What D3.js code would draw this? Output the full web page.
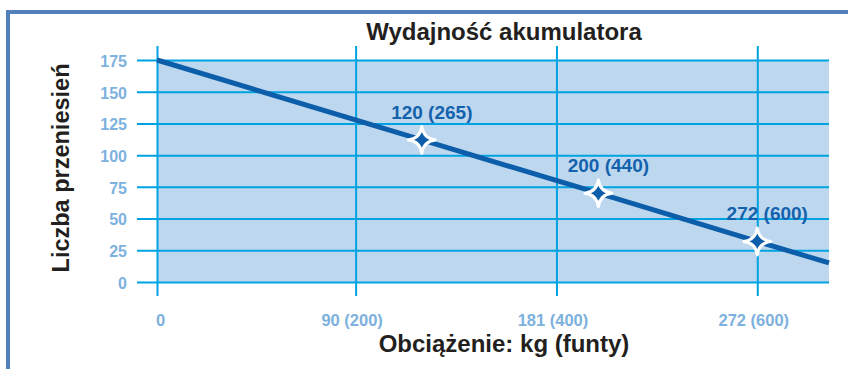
<!DOCTYPE html>
<html>
<head>
<meta charset="utf-8">
<script src="https://cdn.jsdelivr.net/npm/d3@7/dist/d3.min.js"></script>
<style>
  html, body { margin: 0; padding: 0; background: #fff; }
  svg { display: block; }
  svg text { font-family: "Liberation Sans", Arial, Helvetica, sans-serif; }
</style>
</head>
<body>
<svg id="chart" width="848" height="369"></svg>
<script>
// Battery performance: number of lifts against load
const chartTitle = "Wydajność akumulatora";
const xTitle = "Obciążenie: kg (funty)";
const yTitle = "Liczba przeniesień";

const xTickValues = [0, 90, 181, 272];              // kg
const xTickLabels = ["0", "90 (200)", "181 (400)", "272 (600)"];
const yTickValues = [0, 25, 50, 75, 100, 125, 150, 175];

// trend line (kg -> lifts)
const lineKg = [0, 120, 200, 272, 304.5];
const lineLifts = [175, 112, 70, 32, 15];

// highlighted loads
const pointKg = [120, 200, 272];
const pointLifts = [112, 70, 32];
const pointLabels = ["120 (265)", "200 (440)", "272 (600)"];

const svg = d3.select("#chart");

const plot = { left: 157, right: 829, top: 60, bottom: 282 };

const x = d3.scaleLinear().domain([0, 304.5]).range([plot.left, plot.right]);
const y = d3.scaleLinear().domain([0, 175]).range([plot.bottom, plot.top]);

const gridColor = "#00a3e2";
const tickColor = "#7db1de";
const darkBlue = "#0c5daa";
const fontFamily = "Liberation Sans, Arial, Helvetica, sans-serif";

// outer frame (top and left edges)
svg.append("path")
  .attr("d", "M8,369 V12 H848")
  .attr("fill", "none")
  .attr("stroke", "#5280ba")
  .attr("stroke-width", 4);

// plot background
svg.append("rect")
  .attr("x", plot.left).attr("y", plot.top)
  .attr("width", plot.right - plot.left)
  .attr("height", plot.bottom - plot.top)
  .attr("fill", "#bdd8ee");

// y axis: horizontal grid lines extending left as ticks
const yAxis = d3.axisLeft(y)
  .tickValues(yTickValues)
  .tickSize(-(plot.right - 137))
  .tickPadding(10)
  .tickFormat(d3.format("d"));
const yg = svg.append("g")
  .attr("transform", `translate(137,0)`)
  .call(yAxis)
  .attr("font-family", fontFamily);
yg.select(".domain").remove();
yg.selectAll(".tick line")
  .attr("x1", 0).attr("x2", plot.right - 137)
  .attr("stroke", gridColor).attr("stroke-width", 2);
yg.selectAll(".tick text")
  .attr("x", -10)
  .attr("dy", "0.4em")
  .attr("fill", tickColor)
  .attr("font-size", 16)
  .attr("font-weight", "bold");

// x axis: vertical grid lines with labels below
const xAxis = d3.axisBottom(x)
  .tickValues(xTickValues)
  .tickSize(0)
  .tickFormat((d, i) => xTickLabels[i]);
const xg = svg.append("g")
  .attr("transform", `translate(0,296)`)
  .call(xAxis)
  .attr("font-family", fontFamily);
xg.select(".domain").remove();
xg.selectAll(".tick line")
  .attr("y1", 0).attr("y2", -250)
  .attr("stroke", gridColor).attr("stroke-width", 2);
xg.selectAll(".tick text")
  .attr("y", 30)
  .attr("dy", 0)
  .attr("fill", tickColor)
  .attr("font-size", 16.5)
  .attr("font-weight", "bold")
  .attr("dx", (d, i) => i === 0 ? 3 : -4);

// trend line
const lineData = lineKg.map((k, i) => [k, lineLifts[i]]);
svg.append("path")
  .datum(lineData)
  .attr("d", d3.line().x(d => x(d[0])).y(d => y(d[1])))
  .attr("fill", "none")
  .attr("stroke", darkBlue)
  .attr("stroke-width", 5);

// four-point star markers
const R = 13.5, c = 1.5;
const starPath = `M0,${-R} Q${c},${-c} ${R},0 Q${c},${c} 0,${R} Q${-c},${c} ${-R},0 Q${-c},${-c} 0,${-R} Z`;

const points = pointKg.map((k, i) => ({ kg: k, lifts: pointLifts[i], label: pointLabels[i] }));

svg.selectAll(".star")
  .data(points)
  .join("path")
  .attr("class", "star")
  .attr("transform", d => `translate(${x(d.kg)},${y(d.lifts)})`)
  .attr("d", starPath)
  .attr("fill", darkBlue)
  .attr("stroke", "#fff")
  .attr("stroke-width", 3)
  .attr("stroke-linejoin", "round");

svg.selectAll(".pt-label")
  .data(points)
  .join("text")
  .attr("class", "pt-label")
  .attr("x", d => x(d.kg) + 10)
  .attr("y", d => y(d.lifts) - 21)
  .attr("text-anchor", "middle")
  .attr("fill", "#1461ad")
  .attr("font-size", 19)
  .attr("font-weight", "bold")
  .text(d => d.label);

// titles
svg.append("text")
  .attr("x", 504).attr("y", 40)
  .attr("text-anchor", "middle")
  .attr("fill", "#231f20")
  .attr("font-size", 24)
  .attr("font-weight", "bold")
  .text(chartTitle);

svg.append("text")
  .attr("x", 504).attr("y", 352)
  .attr("text-anchor", "middle")
  .attr("fill", "#231f20")
  .attr("font-size", 24)
  .attr("font-weight", "bold")
  .text(xTitle);

svg.append("text")
  .attr("transform", "translate(69,168) rotate(-90)")
  .attr("text-anchor", "middle")
  .attr("fill", "#231f20")
  .attr("font-size", 23.5)
  .attr("font-weight", "bold")
  .text(yTitle);
</script>
</body>
</html>
